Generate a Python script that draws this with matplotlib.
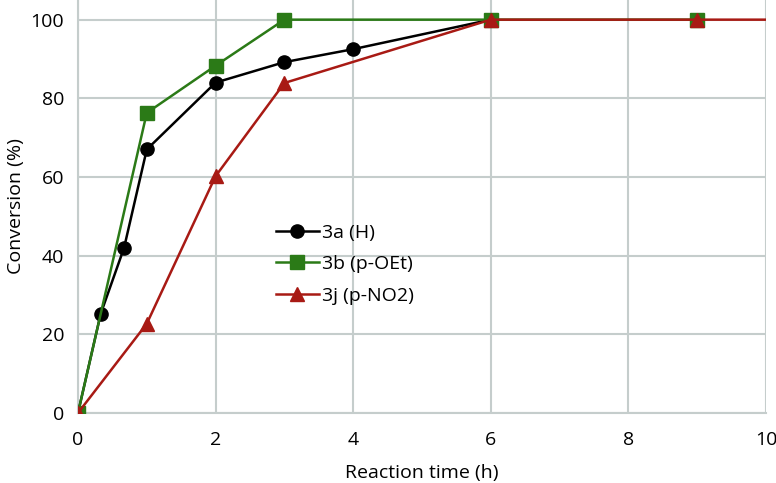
import matplotlib.pyplot as plt

plt.rcParams['font.family'] = ['Open Sans', 'DejaVu Sans']

# data
t_3a = [0, 0.33, 0.67, 1, 2, 3, 4, 6]
conv_3a = [0, 25.2, 42, 67, 84, 89.2, 92.5, 100]

t_3b = [0, 1, 2, 3, 6, 9]
conv_3b = [0, 76.3, 88.3, 100, 100, 100]

t_3j = [0, 1, 2, 3, 6, 9, 10]
conv_3j = [0, 22.7, 60.2, 83.9, 100, 100, 100]

fig = plt.figure(figsize=(7.76, 4.83), dpi=100)
ax = fig.add_axes([0.1005, 0.145, 0.8865, 0.855])

grid_col = '#c5cdcc'
ax.plot(t_3a, conv_3a, color='black', lw=1.8, marker='o', ms=9.5, label='3a (H)', zorder=3)
ax.plot(t_3b, conv_3b, color='#2b7a17', lw=1.8, marker='s', ms=9.5, label='3b (p-OEt)', zorder=4)
ax.plot(t_3j, conv_3j, color='#a81a14', lw=1.8, marker='^', ms=9.5, markevery=list(range(6)),
        label='3j (p-NO2)', zorder=5)

ax.set_xlim(0, 10)
ax.set_ylim(0, 105)
ax.set_xticks(range(0, 11, 2))
ax.set_yticks(range(0, 101, 20))
ax.grid(True, color=grid_col, lw=1.5)
ax.set_axisbelow(True)
for s in ['top', 'right']:
    ax.spines[s].set_visible(False)
for s in ['left', 'bottom']:
    ax.spines[s].set_color(grid_col)
    ax.spines[s].set_linewidth(1.5)
ax.tick_params(length=0, labelsize=14, pad=10)
ax.tick_params(axis='x', pad=13)
ax.set_xlabel('Reaction time (h)', fontsize=14, labelpad=11)
ax.set_ylabel('Conversion (%)', fontsize=14, labelpad=4)

ax.legend(loc='center left', bbox_to_anchor=(0.262, 0.36), frameon=False, fontsize=14,
          handlelength=2.2, labelspacing=0.68, handletextpad=0.2)

fig.savefig('out.png', dpi=100)
